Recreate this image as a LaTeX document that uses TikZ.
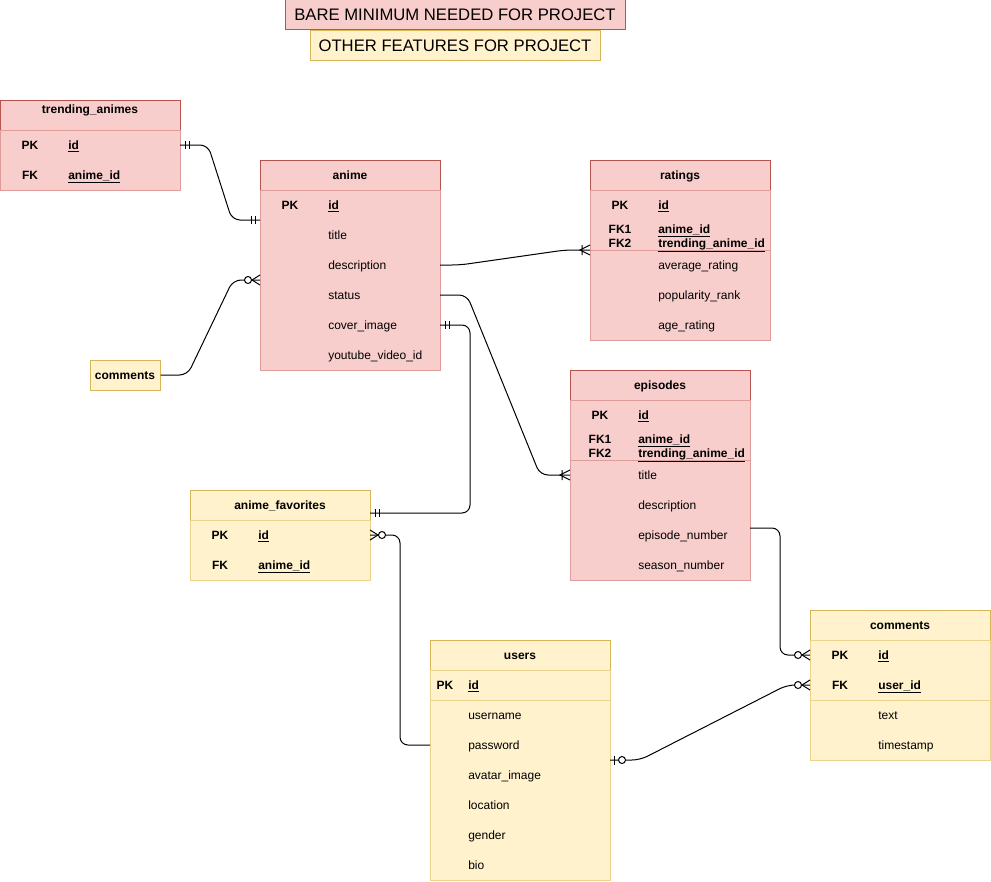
\documentclass[tikz,border=0pt]{standalone}
\usepackage{fontspec}
\setmainfont{Liberation Sans}
\usetikzlibrary{calc}

\definecolor{redfill}{HTML}{F8CECC}
\definecolor{reddark}{HTML}{B85450}
\definecolor{redlight}{HTML}{DE9D9A}
\definecolor{yelfill}{HTML}{FFF2CC}
\definecolor{yeldark}{HTML}{D6B656}
\definecolor{yellight}{HTML}{EBD38C}

\newcommand\erfont{\fontsize{9pt}{11pt}\selectfont}

% ER table: name, x, y, width, height, palette, title, title y
\newcommand\erTable[8]{%
  \node[tablebody, draw=#6light, fill=#6fill,
        minimum width={#4*0.75pt}, minimum height={#5*0.75pt}] (#1) at (#2,#3) {};
  \draw[#6dark, line width=0.75pt] (#2,#3+30) -- (#2,#3) -- (#2+#4,#3) -- (#2+#4,#3+30);
  \draw[#6light, line width=0.75pt] (#2,#3+30) -- (#2+#4,#3+30);
  \node[tabletitle] (#1-title) at (#2+#4/2,#8) {#7};
}

\begin{document}
\begin{tikzpicture}[x=0.75pt,y=-0.75pt,
  tablebody/.style={line width=0.75pt, inner sep=0pt, outer sep=0pt, anchor=north west},
  tabletitle/.style={inner sep=0pt, text height=7.5pt, text depth=1.1pt, font=\erfont\bfseries},
  field/.style={anchor=west, inner sep=0pt, text height=7.5pt, text depth=1.1pt, font=\erfont},
  keyfield/.style={field, font=\erfont\bfseries},
  keycol/.style={inner sep=0pt, text height=7.5pt, text depth=1.1pt, font=\erfont\bfseries},
  conn/.style={draw=black, line width=0.75pt, rounded corners=6pt},
  cardline/.style={draw=black, line width=0.75pt},
  pics/mone/.style={code={\draw[cardline] (-5,-4) -- (-5,4) (-9,-4) -- (-9,4);}},
  pics/mmany/.style={code={\draw[cardline] (0,-5) -- (-10,0) -- (0,5) (-8,-5) -- (-8,5);}},
  pics/zmany/.style={code={\draw[cardline] (0,-5) -- (-8,0) -- (0,5);
                          \draw[cardline, fill=white] (-12,0) circle[radius=3.5];}},
  pics/zone/.style={code={\draw[cardline] (-4,-4.5) -- (-4,4.5);
                         \draw[cardline, fill=white] (-12,0) circle[radius=3.5];}},
  legend/.style={line width=0.75pt, inner sep=0pt, font=\fontsize{12.5pt}{15pt}\selectfont,
                 text height=9pt, text depth=0pt}
]
\useasboundingbox (0,0) rectangle (991,881);

% legend
\node[legend, draw=reddark, fill=redfill, minimum width=255pt, minimum height=22.5pt]
  (legend-min) at (455,15) {BARE MINIMUM NEEDED FOR PROJECT};
\node[legend, draw=yeldark, fill=yelfill, minimum width=217.5pt, minimum height=22pt]
  (legend-other) at (455,45.5) {OTHER FEATURES FOR PROJECT};

% trending_animes
\erTable{trend}{0}{100}{180}{90}{red}{trending\_animes}{109}
\node[keycol] (trend-pk) at (30,145) {PK};
\node[keyfield] (trend-id) at (68,145) {\underline{id}};
\node[keycol] (trend-fk) at (30,175) {FK};
\node[keyfield] (trend-aid) at (68,175) {\underline{anime\_id}};

% anime
\erTable{anime}{260}{160}{180}{210}{red}{anime}{175}
\node[keycol] (anime-pk) at (290,205) {PK};
\node[keyfield] (anime-id) at (328,205) {\underline{id}};
\node[field] (anime-title) at (328,235) {title};
\node[field] (anime-desc) at (328,265) {description};
\node[field] (anime-status) at (328,295) {status};
\node[field] (anime-cover) at (328,325) {cover\_image};
\node[field] (anime-yt) at (328,355) {youtube\_video\_id};

% ratings
\erTable{ratings}{590}{160}{180}{180}{red}{ratings}{175}
\draw[redlight, line width=0.75pt] (590,250) -- (770,250);
\node[keycol] (ratings-pk) at (620,205) {PK};
\node[keyfield] (ratings-id) at (658,205) {\underline{id}};
\node[keycol] (ratings-fk1) at (620,229) {FK1};
\node[keyfield] (ratings-aid) at (658,229) {\underline{anime\_id}};
\node[keycol] (ratings-fk2) at (620,243) {FK2};
\node[keyfield] (ratings-tid) at (658,243) {\underline{trending\_anime\_id}};
\node[field] (ratings-avg) at (658,265) {average\_rating};
\node[field] (ratings-pop) at (658,295) {popularity\_rank};
\node[field] (ratings-age) at (658,325) {age\_rating};

% episodes
\erTable{episodes}{570}{370}{180}{210}{red}{episodes}{385}
\draw[redlight, line width=0.75pt] (570,460) -- (750,460);
\node[keycol] (episodes-pk) at (600,415) {PK};
\node[keyfield] (episodes-id) at (638,415) {\underline{id}};
\node[keycol] (episodes-fk1) at (600,439) {FK1};
\node[keyfield] (episodes-aid) at (638,439) {\underline{anime\_id}};
\node[keycol] (episodes-fk2) at (600,453) {FK2};
\node[keyfield] (episodes-tid) at (638,453) {\underline{trending\_anime\_id}};
\node[field] (episodes-title) at (638,475) {title};
\node[field] (episodes-desc) at (638,505) {description};
\node[field] (episodes-num) at (638,535) {episode\_number};
\node[field] (episodes-season) at (638,565) {season\_number};

% anime_favorites
\erTable{fav}{190}{490}{180}{90}{yel}{anime\_favorites}{505}
\node[keycol] (fav-pk) at (220,535) {PK};
\node[keyfield] (fav-id) at (258,535) {\underline{id}};
\node[keycol] (fav-fk) at (220,565) {FK};
\node[keyfield] (fav-aid) at (258,565) {\underline{anime\_id}};

% users
\erTable{users}{430}{640}{180}{240}{yel}{users}{655}
\draw[yellight, line width=0.75pt] (430,700) -- (610,700);
\node[keycol] (users-pk) at (445,685) {PK};
\node[keyfield] (users-id) at (468,685) {\underline{id}};
\node[field] (users-name) at (468,715) {username};
\node[field] (users-pass) at (468,745) {password};
\node[field] (users-avatar) at (468,775) {avatar\_image};
\node[field] (users-loc) at (468,805) {location};
\node[field] (users-gender) at (468,835) {gender};
\node[field] (users-bio) at (468,865) {bio};

% comments
\erTable{comments}{810}{610}{180}{150}{yel}{comments}{625}
\draw[yellight, line width=0.75pt] (810,700) -- (990,700);
\node[keycol] (comments-pk) at (840,655) {PK};
\node[keyfield] (comments-id) at (878,655) {\underline{id}};
\node[keycol] (comments-fk) at (840,685) {FK};
\node[keyfield] (comments-uid) at (878,685) {\underline{user\_id}};
\node[field] (comments-text) at (878,715) {text};
\node[field] (comments-time) at (878,745) {timestamp};

% standalone comments entity
\node[draw=yeldark, fill=yelfill, line width=0.75pt, inner sep=0pt,
      minimum width=52.5pt, minimum height=22.5pt, font=\erfont\bfseries,
      text height=7.5pt, text depth=1.1pt] (cmtbox) at (125,375) {comments};

% connection points between rows
\coordinate (anime-pk-in) at ($(anime.north west)+(0,60)$);
\coordinate (ratings-in) at ($(ratings.north west)+(0,90)$);
\coordinate (anime-in) at ($(anime.north west)+(0,120)$);
\coordinate (fav-in) at ($(fav.north east)+(0,23)$);
\coordinate (episodes-out) at ($(episodes.north east)+(0,158)$);
\coordinate (users-out) at ($(users.north east)+(0,120)$);

% relationships
\draw[conn] (trend.east |- trend-id) -- ++(28,0)
  -- ($(anime-pk-in)+(-28,0)$) -- (anime-pk-in);
\draw[conn] (anime.east |- anime-desc) -- ++(20,0)
  -- ($(ratings-in)+(-25,0)$) -- (ratings-in);
\draw[conn] (anime.east |- anime-status) -- ++(27,0)
  -- ($(episodes.west |- episodes-title)+(-30,0)$) -- (episodes.west |- episodes-title);
\draw[conn] (anime.east |- anime-cover) -- ++(30,0) |- (fav-in);
\draw[conn] (fav.east |- fav-id) -- ++(30,0) |- (users.west |- users-pass);
\draw[conn] (cmtbox.east) -- ++(27,0) -- ($(anime-in)+(-27,0)$) -- (anime-in);
\draw[conn] (episodes-out) -- ++(30,0) |- (comments.west |- comments-id);
\draw[conn] (users-out) -- ++(30,0)
  -- ($(comments.west |- comments-uid)+(-23,0)$) -- (comments.west |- comments-uid);

% cardinality marks
\pic[xscale=-1] at (trend.east |- trend-id) {mone};
\pic at (anime-pk-in) {mone};
\pic at (ratings-in) {mmany};
\pic at (episodes.west |- episodes-title) {mmany};
\pic[xscale=-1] at (anime.east |- anime-cover) {mone};
\pic[xscale=-1] at (fav-in) {mone};
\pic[xscale=-1] at (fav.east |- fav-id) {zmany};
\pic at (anime-in) {zmany};
\pic at (comments.west |- comments-id) {zmany};
\pic[xscale=-1] at (users-out) {zone};
\pic at (comments.west |- comments-uid) {zmany};
\end{tikzpicture}
\end{document}
